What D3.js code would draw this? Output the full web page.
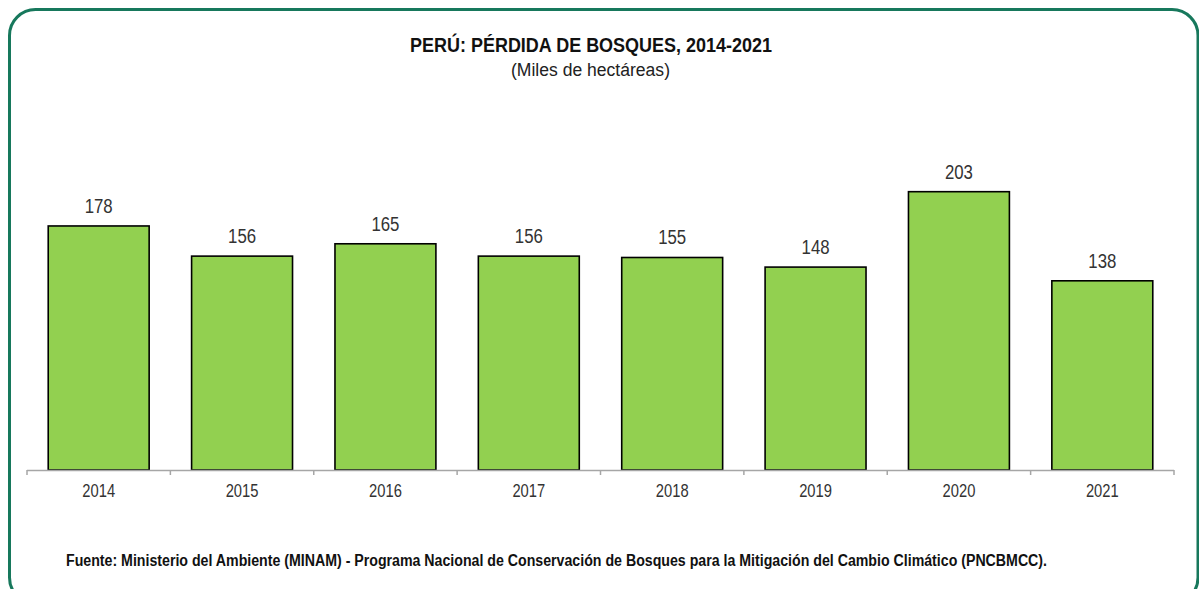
<!DOCTYPE html>
<html><head><meta charset="utf-8">
<script src="https://cdn.jsdelivr.net/npm/d3@7"></script>
<style>body{margin:0;background:#fff}svg{display:block}</style>
</head><body>
<svg id="c" width="1199" height="589"></svg>
<script>
const years = ["2014","2015","2016","2017","2018","2019","2020","2021"];
const values = [178,156,165,156,155,148,203,138];
const title = "PERÚ: PÉRDIDA DE BOSQUES, 2014-2021";
const subtitle = "(Miles de hectáreas)";
const source = "Fuente: Ministerio del Ambiente (MINAM) - Programa Nacional de Conservación de Bosques para la Mitigación del Cambio Climático (PNCBMCC).";

const font = "'Liberation Sans Narrow', 'Arial Narrow', 'Liberation Sans', Arial, sans-serif";
const svg = d3.select("#c");

svg.append("rect").attr("x",9.5).attr("y",9.5).attr("width",1188.5).attr("height",594)
  .attr("rx",26).attr("fill","#fff").attr("stroke","#17785c").attr("stroke-width",3);

const x = d3.scaleBand().domain(years).range([27,1174]).paddingInner(0.296).paddingOuter(0.148);
const y = d3.scaleLinear().domain([0,250]).range([470,127.25]);

function narrowText(sel, sx){
  sel.attr("transform", function(){
    const t = d3.select(this);
    return `translate(${t.attr("data-x")},${t.attr("data-y")}) scale(${sx},1)`;
  }).attr("x",0).attr("y",0);
}

svg.append("text").attr("x",410).attr("y",52)
  .attr("textLength",362).attr("lengthAdjust","spacingAndGlyphs")
  .style("font-family",font).style("font-weight","bold").style("font-size","19.5px").attr("fill","#111").text(title);
svg.append("text").attr("x",511).attr("y",76)
  .attr("textLength",159).attr("lengthAdjust","spacingAndGlyphs")
  .style("font-family",font).style("font-size","18px").attr("fill","#222").text(subtitle);

svg.selectAll("rect.bar").data(years).join("rect").attr("class","bar")
  .attr("x",d=>x(d)).attr("width",x.bandwidth())
  .attr("y",(d,i)=>y(values[i])).attr("height",(d,i)=>y(0)-y(values[i]))
  .attr("fill","#92d050").attr("stroke","#000").attr("stroke-width",1.6);

svg.selectAll("text.val").data(years).join("text").attr("class","val")
  .attr("data-x",d=>x(d)+x.bandwidth()/2).attr("data-y",(d,i)=>y(values[i])-13)
  .attr("text-anchor","middle").style("font-family",font).style("font-size","21px").attr("fill","#333")
  .text((d,i)=>values[i]).call(narrowText,0.8);

// axis
const step = x.step();
const bounds = d3.range(years.length+1).map(i=>27 + i*step);
svg.append("line").attr("x1",27).attr("x2",1174).attr("y1",470.5).attr("y2",470.5)
  .attr("stroke","#a6a6a6").attr("stroke-width",1.5);
svg.selectAll("line.tick").data(bounds).join("line").attr("class","tick")
  .attr("x1",d=>d).attr("x2",d=>d).attr("y1",470).attr("y2",475)
  .attr("stroke","#a6a6a6").attr("stroke-width",1.5);
svg.selectAll("text.cat").data(years).join("text").attr("class","cat")
  .attr("data-x",d=>x(d)+x.bandwidth()/2).attr("data-y",497).attr("text-anchor","middle")
  .style("font-family",font).style("font-size","18px").attr("fill","#333").text(d=>d)
  .call(narrowText,0.82);

svg.append("text").attr("x",66).attr("y",566)
  .attr("textLength",981).attr("lengthAdjust","spacingAndGlyphs")
  .style("font-family",font).style("font-weight","bold").style("font-size","16px").attr("fill","#111").text(source);
</script>
</body></html>
